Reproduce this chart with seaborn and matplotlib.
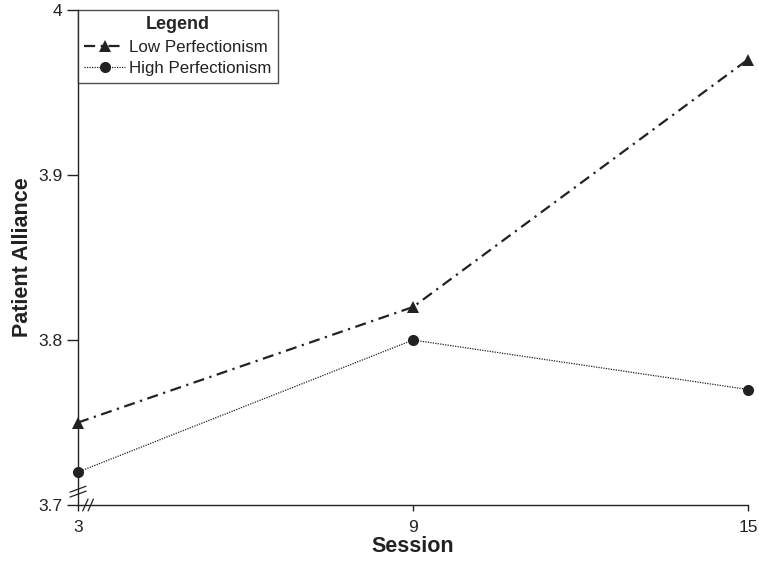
import matplotlib
matplotlib.use("Agg")
import matplotlib.pyplot as plt
import seaborn as sns
import pandas as pd

sessions = [3, 9, 15]
low_perf = [3.75, 3.82, 3.97]
high_perf = [3.72, 3.80, 3.77]
y_ticks = [3.7, 3.8, 3.9, 4.0]
y_tick_labels = ["3.7", "3.8", "3.9", "4"]

df = pd.DataFrame({
    "Session": sessions * 2,
    "Alliance": low_perf + high_perf,
    "Group": ["Low Perfectionism"] * 3 + ["High Perfectionism"] * 3,
})

sns.set_style("ticks")
plt.rcParams["font.family"] = ["Liberation Sans", "DejaVu Sans"]

fig = plt.figure(figsize=(7.59, 5.62), dpi=100)
ax = fig.add_axes([0.1028, 0.1014, 0.8827, 0.8808])

low = df[df.Group == "Low Perfectionism"]
high = df[df.Group == "High Perfectionism"]
sns.lineplot(data=low, x="Session", y="Alliance", ax=ax, color="#222222",
             linestyle=(0, (5, 2.5, 1, 2.5)), linewidth=1.6, marker="^",
             markersize=8, markeredgewidth=0, label="Low Perfectionism",
             clip_on=False)
sns.lineplot(data=high, x="Session", y="Alliance", ax=ax, color="#222222",
             linestyle=(0, (1, 1)), linewidth=0.9, marker="o",
             markersize=8, markeredgewidth=0, label="High Perfectionism",
             clip_on=False)

ax.set_xlim(3, 15)
ax.set_ylim(3.7, 4.0)
ax.set_xticks(sessions)
ax.set_xticklabels([str(s) for s in sessions])
ax.set_yticks(y_ticks)
ax.set_yticklabels(y_tick_labels)
ax.tick_params(axis="both", labelsize=12.5, width=1, color="#222222",
               labelcolor="#222222")
ax.tick_params(axis="x", length=4.5, pad=6)
ax.tick_params(axis="y", length=8, pad=3)
for s in ["top", "right"]:
    ax.spines[s].set_visible(False)
for s in ["left", "bottom"]:
    ax.spines[s].set_color("#222222")
    ax.spines[s].set_linewidth(1)

ax.set_xlabel("Session", fontsize=15.5, fontweight="bold", labelpad=1, color="#222222")
ax.set_ylabel("Patient Alliance", fontsize=15.5, fontweight="bold", labelpad=4, color="#222222")

# axis break marks
kw = dict(color="#222222", linewidth=0.9, clip_on=False, transform=ax.transAxes)
for dy in (0.022, 0.032):
    ax.plot([-0.012, 0.012], [dy - 0.006, dy + 0.006], **kw)
for dx in (0.011, 0.019):
    ax.plot([dx - 0.004, dx + 0.004], [-0.012, 0.012], **kw)

leg = ax.legend(title="Legend", loc="upper left", bbox_to_anchor=(0.0, 1.0),
                frameon=True, fancybox=False, fontsize=12.2, handlelength=2.4,
                borderaxespad=0, borderpad=0.38, labelspacing=0.38,
                handletextpad=0.25)
leg.get_title().set_fontweight("bold")
leg.get_title().set_fontsize(13)
leg.get_frame().set_edgecolor("#222222")
leg.get_frame().set_linewidth(1)
for t in leg.get_texts():
    t.set_color("#222222")

fig.savefig("out.png", dpi=100)
